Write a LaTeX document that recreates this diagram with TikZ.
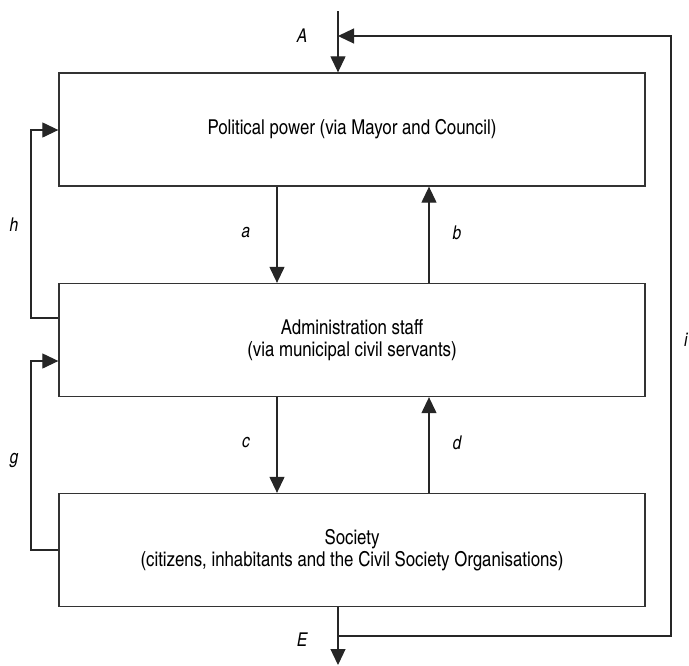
\documentclass[tikz,border=0pt]{standalone}
\usepackage{fontspec}
\setmainfont{texgyreheroscn-regular.otf}[ItalicFont=texgyreheroscn-italic.otf]
\usetikzlibrary{arrows.meta}
\begin{document}
\begin{tikzpicture}[x=1pt,y=-1pt,
  line/.style={draw=black!85,line width=1.2pt},
  arr/.style={line,-{Triangle[length=16pt,width=15pt]}},
  box/.style={draw=black!80,line width=1.3pt,minimum width=586pt,minimum height=113pt,inner sep=0pt,align=center,font=\fontsize{20.5}{22}\selectfont},
  lab/.style={font=\fontsize{19}{20}\selectfont\itshape,inner sep=0pt}]
\useasboundingbox (0,0) rectangle (689,665);
\node[box] (pol) at (352,129.5) {Political power (via Mayor and Council)};
\node[box] (adm) at (352,340) {Administration staff\\(via municipal civil servants)};
\node[box] (soc) at (352,550) {Society\\(citizens, inhabitants and the Civil Society Organisations)};
% coordinates
\coordinate (ax) at (277,0);
\coordinate (bx) at (429,0);
\coordinate (atop) at (338,11);
\coordinate (ebot) at (338,665);
\coordinate (tr) at (671,36);
\coordinate (br) at (671,636);
\coordinate (hy) at (0,130);
\coordinate (hl) at (31,318);
\coordinate (gy) at (0,361);
\coordinate (gl) at (31,550);
% vertical flows
\draw[arr] (pol.south -| ax) -- (adm.north -| ax);
\draw[arr] (adm.north -| bx) -- (pol.south -| bx);
\draw[arr] (adm.south -| ax) -- (soc.north -| ax);
\draw[arr] (soc.north -| bx) -- (adm.south -| bx);
% input A
\draw[arr] (atop) -- (pol.north -| atop);
% output E and feedback i
\draw[arr] (soc.south -| ebot) -- (ebot);
\draw[arr] (br -| ebot) -- (br) -- (tr) -- (tr -| atop);
% feedback h
\draw[arr] (adm.west |- hl) -- (hl) -- (hl |- hy) -- (pol.west |- hy);
% feedback g
\draw[arr] (soc.west |- gl) -- (gl) -- (gl |- gy) -- (adm.west |- gy);
% labels
\node[lab] (lA) at (302,36) {A};
\node[lab] (lE) at (302,640) {E};
\node[lab] (la) at (246,233) {a};
\node[lab] (lb) at (457,233) {b};
\node[lab] (lc) at (246,443) {c};
\node[lab] (ld) at (457,443) {d};
\node[lab] (lh) at (14,225) {h};
\node[lab] (lg) at (14,460) {g};
\node[lab,anchor=west] (li) at (684,340) {i};
\end{tikzpicture}
\end{document}
